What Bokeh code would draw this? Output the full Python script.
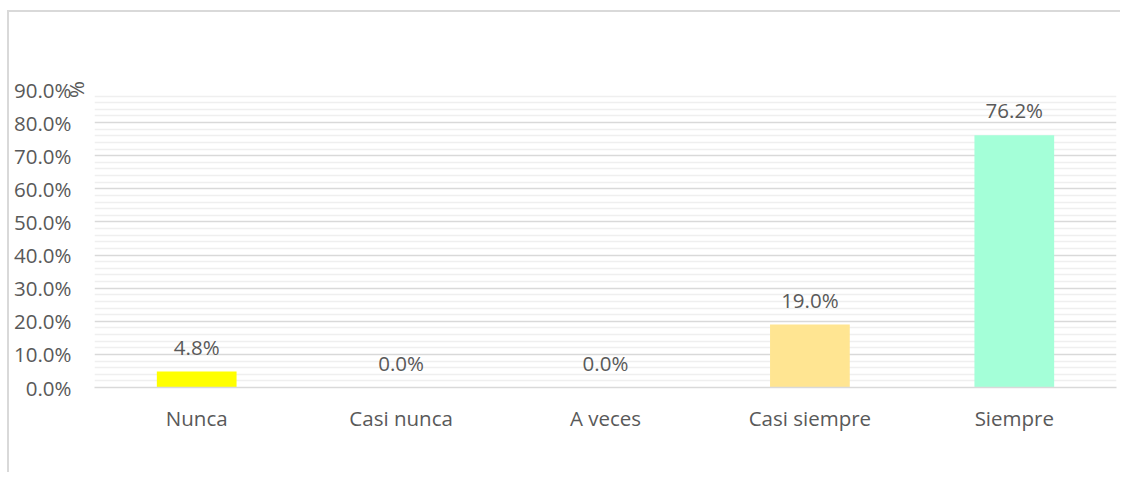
from bokeh.plotting import figure
from bokeh.models import (ColumnDataSource, Range1d, FixedTicker, NumeralTickFormatter)
from bokeh.core.properties import value
from bokeh.embed import file_html
from bokeh.resources import INLINE

categories = ["Nunca", "Casi nunca", "A veces", "Casi siempre", "Siempre"]
shares = [0.048, 0.0, 0.0, 0.190, 0.762]
bar_colors = ["#FFFF00", "#FFFF00", "#FFFF00", "#FFE592", "#A4FFD8"]
y_ticks = [0.0, 0.1, 0.2, 0.3, 0.4, 0.5, 0.6, 0.7, 0.8, 0.9]
y_title = "%"

FONT = "Open Sans"
FS = "20.5px"
GREY = "#595959"

src = ColumnDataSource(dict(
    cat=categories,
    val=shares,
    color=bar_colors,
    lab=[f"{v * 100:.1f}%" for v in shares],
))

p = figure(
    x_range=categories,
    y_range=Range1d(0, 0.9),
    frame_width=1022, frame_height=298,
    min_border_left=85, min_border_right=4,
    min_border_top=77, min_border_bottom=85,
    output_backend="svg", toolbar_location=None,
    background_fill_color="white", border_fill_color="white",
)
p.styles = {"margin-top": "10px", "margin-left": "7px",
            "border-top": "2px solid #d9d9d9", "border-left": "2px solid #d9d9d9"}
p.outline_line_color = None

p.vbar(x="cat", top="val", width=0.39, color="color", line_color=None, source=src)
p.text(x="cat", y="val", text="lab", source=src, y_offset=-25,
       text_align="center", text_baseline="middle",
       text_font=value(FONT), text_font_size=FS, text_color=GREY)

minor = [i * 0.02 for i in range(46) if i % 5 != 0]
p.yaxis.ticker = FixedTicker(ticks=y_ticks, minor_ticks=minor)
p.yaxis.formatter = NumeralTickFormatter(format="0.0%")
p.yaxis.axis_line_color = None
p.yaxis.major_tick_line_color = None
p.yaxis.minor_tick_line_color = None
p.yaxis.major_tick_out = 0
p.yaxis.major_tick_in = 0
p.yaxis.minor_tick_out = 0
p.yaxis.major_label_standoff = 23
p.yaxis.major_label_text_font = FONT
p.yaxis.major_label_text_font_size = FS
p.yaxis.major_label_text_color = GREY
# "%" axis title, pulled back over the tick labels at the top of the axis
p.yaxis.axis_label = y_title
p.yaxis.axis_label_standoff = -79
p.yaxis.axis_label_align = "end"
p.yaxis.axis_label_text_font = FONT
p.yaxis.axis_label_text_font_size = FS
p.yaxis.axis_label_text_font_style = "normal"
p.yaxis.axis_label_text_color = GREY

p.xaxis.axis_line_color = "#d9d9d9"
p.xaxis.axis_line_width = 1.5
p.xaxis.major_tick_line_color = None
p.xaxis.minor_tick_line_color = None
p.xaxis.major_tick_out = 0
p.xaxis.major_tick_in = 0
p.xaxis.major_label_standoff = 16
p.xaxis.major_label_text_font = FONT
p.xaxis.major_label_text_font_size = FS
p.xaxis.major_label_text_color = GREY

p.xgrid.grid_line_color = None
p.ygrid.grid_line_color = "#d9d9d9"
p.ygrid.grid_line_width = 1.5
p.ygrid.minor_grid_line_color = "#efefef"
p.ygrid.minor_grid_line_width = 1.5

open("out.html", "w").write(file_html(p, INLINE))
